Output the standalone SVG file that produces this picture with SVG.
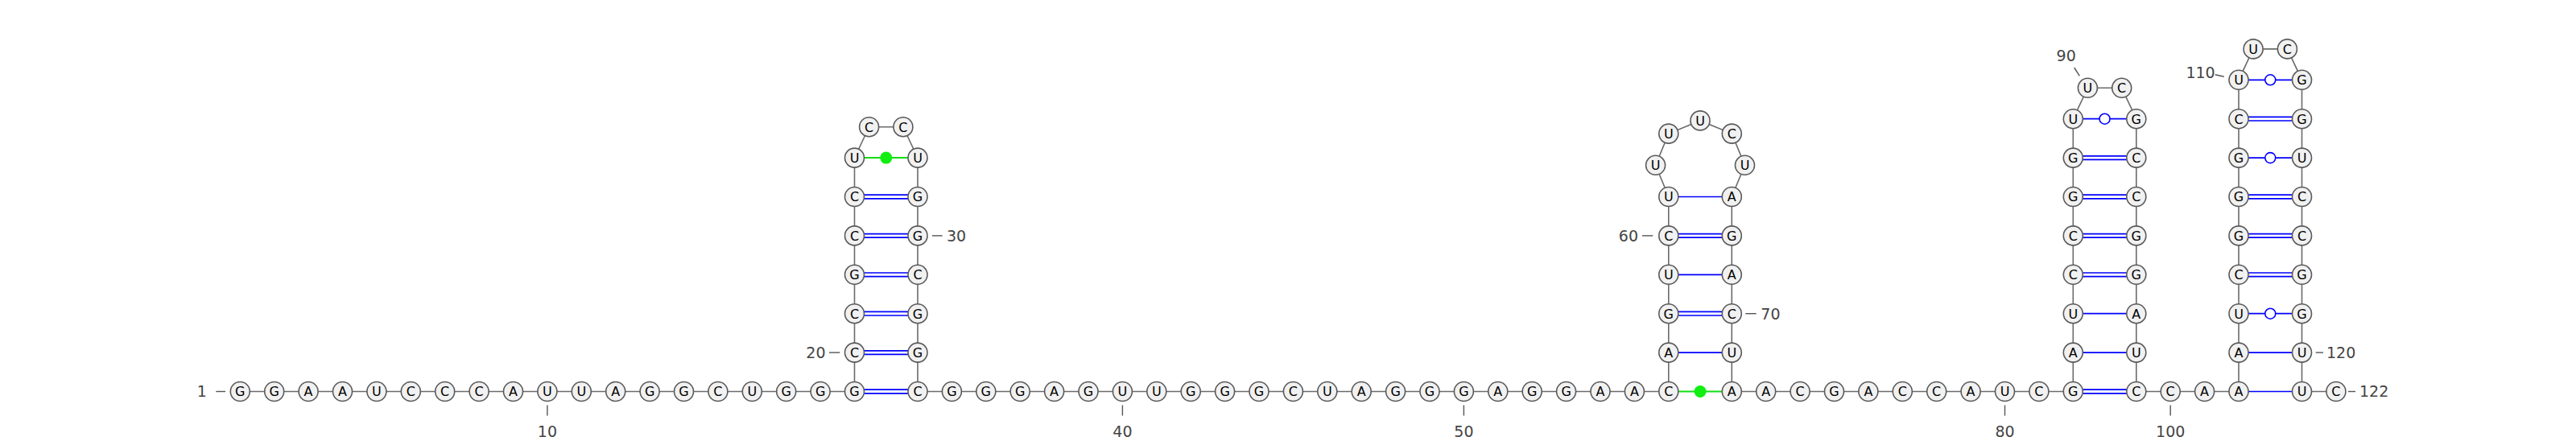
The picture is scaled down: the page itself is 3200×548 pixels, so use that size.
<svg xmlns="http://www.w3.org/2000/svg" width="3200" height="548" viewBox="0 0 3200 548">
<style>
.bb{fill:none;stroke:#6b6b6b;stroke-width:1.6}
.nt circle{fill:#f1f1f1;stroke:#5a5a5a;stroke-width:1.6}
.nt text{font-family:"DejaVu Sans",sans-serif;font-size:16px;text-anchor:middle;fill:#000}
.bp{stroke:#0000ff;stroke-width:1.7}
.wb{fill:#fff;stroke:#0000ff;stroke-width:1.6}
.nc{stroke:#11dd11;stroke-width:2}
.ncd{fill:#11ee11}
.lbl{font-family:"DejaVu Sans",sans-serif;font-size:19px;fill:#444}
.tk{stroke:#555;stroke-width:1.4}
</style>
<rect width="3200" height="548" fill="#fff"/>
<g id="connectors">
<polyline class="bb" points="298.3,486.5 340.7,486.5 383.1,486.5 425.5,486.5 467.9,486.5 510.3,486.5 552.7,486.5 595.1,486.5 637.5,486.5 679.9,486.5 722.3,486.5 764.7,486.5 807.1,486.5 849.5,486.5 891.9,486.5 934.3,486.5 976.7,486.5 1019.1,486.5 1061.5,486.5 1061.5,438.1 1061.5,389.7 1061.5,341.3 1061.5,292.9 1061.5,244.5 1061.5,196.1 1079.6,157.7 1121.9,157.7 1140,196.1 1140,244.5 1140,292.9 1140,341.3 1140,389.7 1140,438.1 1140,486.5 1182.4,486.5 1224.8,486.5 1267.2,486.5 1309.6,486.5 1352,486.5 1394.4,486.5 1436.8,486.5 1479.2,486.5 1521.6,486.5 1564,486.5 1606.4,486.5 1648.8,486.5 1691.2,486.5 1733.6,486.5 1776,486.5 1818.4,486.5 1860.8,486.5 1903.2,486.5 1945.6,486.5 1988,486.5 2030.4,486.5 2072.8,486.5 2072.8,438.1 2072.8,389.7 2072.8,341.3 2072.8,292.9 2072.8,244.5 2056.6,205.3 2072.8,166.1 2112,149.9 2151.3,166.1 2167.5,205.3 2151.3,244.5 2151.3,292.9 2151.3,341.3 2151.3,389.7 2151.3,438.1 2151.3,486.5 2193.7,486.5 2236.1,486.5 2278.5,486.5 2320.9,486.5 2363.3,486.5 2405.7,486.5 2448.1,486.5 2490.5,486.5 2532.9,486.5 2575.3,486.5 2575.3,438.1 2575.3,389.7 2575.3,341.3 2575.3,292.9 2575.3,244.5 2575.3,196.1 2575.3,147.7 2593.4,109.3 2635.7,109.3 2653.8,147.7 2653.8,196.1 2653.8,244.5 2653.8,292.9 2653.8,341.3 2653.8,389.7 2653.8,438.1 2653.8,486.5 2696.2,486.5 2738.6,486.5 2781,486.5 2781,438.1 2781,389.7 2781,341.3 2781,292.9 2781,244.5 2781,196.1 2781,147.7 2781,99.3 2799.1,60.9 2841.4,60.9 2859.5,99.3 2859.5,147.7 2859.5,196.1 2859.5,244.5 2859.5,292.9 2859.5,341.3 2859.5,389.7 2859.5,438.1 2859.5,486.5 2901.9,486.5"/>
<g id="pairs-stem1">
<line class="bp" x1="1073.5" y1="484.2" x2="1128" y2="484.2"/><line class="bp" x1="1073.5" y1="488.8" x2="1128" y2="488.8"/>
<line class="bp" x1="1073.5" y1="435.8" x2="1128" y2="435.8"/><line class="bp" x1="1073.5" y1="440.4" x2="1128" y2="440.4"/>
<line class="bp" x1="1073.5" y1="387.4" x2="1128" y2="387.4"/><line class="bp" x1="1073.5" y1="392" x2="1128" y2="392"/>
<line class="bp" x1="1073.5" y1="339" x2="1128" y2="339"/><line class="bp" x1="1073.5" y1="343.6" x2="1128" y2="343.6"/>
<line class="bp" x1="1073.5" y1="290.6" x2="1128" y2="290.6"/><line class="bp" x1="1073.5" y1="295.2" x2="1128" y2="295.2"/>
<line class="bp" x1="1073.5" y1="242.2" x2="1128" y2="242.2"/><line class="bp" x1="1073.5" y1="246.8" x2="1128" y2="246.8"/>
<line class="nc" x1="1073.5" y1="196.1" x2="1128" y2="196.1"/><circle class="ncd" cx="1100.75" cy="196.1" r="7.5"/>
</g>
<g id="pairs-stem2">
<line class="nc" x1="2084.8" y1="486.5" x2="2139.3" y2="486.5"/><circle class="ncd" cx="2112.05" cy="486.5" r="7.5"/>
<line class="bp" x1="2084.8" y1="438.1" x2="2139.3" y2="438.1"/>
<line class="bp" x1="2084.8" y1="387.4" x2="2139.3" y2="387.4"/><line class="bp" x1="2084.8" y1="392" x2="2139.3" y2="392"/>
<line class="bp" x1="2084.8" y1="341.3" x2="2139.3" y2="341.3"/>
<line class="bp" x1="2084.8" y1="290.6" x2="2139.3" y2="290.6"/><line class="bp" x1="2084.8" y1="295.2" x2="2139.3" y2="295.2"/>
<line class="bp" x1="2084.8" y1="244.5" x2="2139.3" y2="244.5"/>
</g>
<g id="pairs-stem3">
<line class="bp" x1="2587.3" y1="484.2" x2="2641.8" y2="484.2"/><line class="bp" x1="2587.3" y1="488.8" x2="2641.8" y2="488.8"/>
<line class="bp" x1="2587.3" y1="438.1" x2="2641.8" y2="438.1"/>
<line class="bp" x1="2587.3" y1="389.7" x2="2641.8" y2="389.7"/>
<line class="bp" x1="2587.3" y1="339" x2="2641.8" y2="339"/><line class="bp" x1="2587.3" y1="343.6" x2="2641.8" y2="343.6"/>
<line class="bp" x1="2587.3" y1="290.6" x2="2641.8" y2="290.6"/><line class="bp" x1="2587.3" y1="295.2" x2="2641.8" y2="295.2"/>
<line class="bp" x1="2587.3" y1="242.2" x2="2641.8" y2="242.2"/><line class="bp" x1="2587.3" y1="246.8" x2="2641.8" y2="246.8"/>
<line class="bp" x1="2587.3" y1="193.8" x2="2641.8" y2="193.8"/><line class="bp" x1="2587.3" y1="198.4" x2="2641.8" y2="198.4"/>
<line class="bp" x1="2587.3" y1="147.7" x2="2641.8" y2="147.7"/><circle class="wb" cx="2614.55" cy="147.7" r="6.5"/>
</g>
<g id="pairs-stem4">
<line class="bp" x1="2793" y1="486.5" x2="2847.5" y2="486.5"/>
<line class="bp" x1="2793" y1="438.1" x2="2847.5" y2="438.1"/>
<line class="bp" x1="2793" y1="389.7" x2="2847.5" y2="389.7"/><circle class="wb" cx="2820.25" cy="389.7" r="6.5"/>
<line class="bp" x1="2793" y1="339" x2="2847.5" y2="339"/><line class="bp" x1="2793" y1="343.6" x2="2847.5" y2="343.6"/>
<line class="bp" x1="2793" y1="290.6" x2="2847.5" y2="290.6"/><line class="bp" x1="2793" y1="295.2" x2="2847.5" y2="295.2"/>
<line class="bp" x1="2793" y1="242.2" x2="2847.5" y2="242.2"/><line class="bp" x1="2793" y1="246.8" x2="2847.5" y2="246.8"/>
<line class="bp" x1="2793" y1="196.1" x2="2847.5" y2="196.1"/><circle class="wb" cx="2820.25" cy="196.1" r="6.5"/>
<line class="bp" x1="2793" y1="145.4" x2="2847.5" y2="145.4"/><line class="bp" x1="2793" y1="150" x2="2847.5" y2="150"/>
<line class="bp" x1="2793" y1="99.3" x2="2847.5" y2="99.3"/><circle class="wb" cx="2820.25" cy="99.3" r="6.5"/>
</g>
</g>
<g id="nodes">
<g id="n1" class="nt"><circle cx="298.3" cy="486.5" r="12"/><text x="298.3" y="492.3">G</text></g>
<g id="n2" class="nt"><circle cx="340.7" cy="486.5" r="12"/><text x="340.7" y="492.3">G</text></g>
<g id="n3" class="nt"><circle cx="383.1" cy="486.5" r="12"/><text x="383.1" y="492.3">A</text></g>
<g id="n4" class="nt"><circle cx="425.5" cy="486.5" r="12"/><text x="425.5" y="492.3">A</text></g>
<g id="n5" class="nt"><circle cx="467.9" cy="486.5" r="12"/><text x="467.9" y="492.3">U</text></g>
<g id="n6" class="nt"><circle cx="510.3" cy="486.5" r="12"/><text x="510.3" y="492.3">C</text></g>
<g id="n7" class="nt"><circle cx="552.7" cy="486.5" r="12"/><text x="552.7" y="492.3">C</text></g>
<g id="n8" class="nt"><circle cx="595.1" cy="486.5" r="12"/><text x="595.1" y="492.3">C</text></g>
<g id="n9" class="nt"><circle cx="637.5" cy="486.5" r="12"/><text x="637.5" y="492.3">A</text></g>
<g id="n10" class="nt"><circle cx="679.9" cy="486.5" r="12"/><text x="679.9" y="492.3">U</text></g>
<g id="n11" class="nt"><circle cx="722.3" cy="486.5" r="12"/><text x="722.3" y="492.3">U</text></g>
<g id="n12" class="nt"><circle cx="764.7" cy="486.5" r="12"/><text x="764.7" y="492.3">A</text></g>
<g id="n13" class="nt"><circle cx="807.1" cy="486.5" r="12"/><text x="807.1" y="492.3">G</text></g>
<g id="n14" class="nt"><circle cx="849.5" cy="486.5" r="12"/><text x="849.5" y="492.3">G</text></g>
<g id="n15" class="nt"><circle cx="891.9" cy="486.5" r="12"/><text x="891.9" y="492.3">C</text></g>
<g id="n16" class="nt"><circle cx="934.3" cy="486.5" r="12"/><text x="934.3" y="492.3">U</text></g>
<g id="n17" class="nt"><circle cx="976.7" cy="486.5" r="12"/><text x="976.7" y="492.3">G</text></g>
<g id="n18" class="nt"><circle cx="1019.1" cy="486.5" r="12"/><text x="1019.1" y="492.3">G</text></g>
<g id="n19" class="nt"><circle cx="1061.5" cy="486.5" r="12"/><text x="1061.5" y="492.3">G</text></g>
<g id="n20" class="nt"><circle cx="1061.5" cy="438.1" r="12"/><text x="1061.5" y="443.9">C</text></g>
<g id="n21" class="nt"><circle cx="1061.5" cy="389.7" r="12"/><text x="1061.5" y="395.5">C</text></g>
<g id="n22" class="nt"><circle cx="1061.5" cy="341.3" r="12"/><text x="1061.5" y="347.1">G</text></g>
<g id="n23" class="nt"><circle cx="1061.5" cy="292.9" r="12"/><text x="1061.5" y="298.7">C</text></g>
<g id="n24" class="nt"><circle cx="1061.5" cy="244.5" r="12"/><text x="1061.5" y="250.3">C</text></g>
<g id="n25" class="nt"><circle cx="1061.5" cy="196.1" r="12"/><text x="1061.5" y="201.9">U</text></g>
<g id="n26" class="nt"><circle cx="1079.6" cy="157.7" r="12"/><text x="1079.6" y="163.5">C</text></g>
<g id="n27" class="nt"><circle cx="1121.9" cy="157.7" r="12"/><text x="1121.9" y="163.5">C</text></g>
<g id="n28" class="nt"><circle cx="1140" cy="196.1" r="12"/><text x="1140" y="201.9">U</text></g>
<g id="n29" class="nt"><circle cx="1140" cy="244.5" r="12"/><text x="1140" y="250.3">G</text></g>
<g id="n30" class="nt"><circle cx="1140" cy="292.9" r="12"/><text x="1140" y="298.7">G</text></g>
<g id="n31" class="nt"><circle cx="1140" cy="341.3" r="12"/><text x="1140" y="347.1">C</text></g>
<g id="n32" class="nt"><circle cx="1140" cy="389.7" r="12"/><text x="1140" y="395.5">G</text></g>
<g id="n33" class="nt"><circle cx="1140" cy="438.1" r="12"/><text x="1140" y="443.9">G</text></g>
<g id="n34" class="nt"><circle cx="1140" cy="486.5" r="12"/><text x="1140" y="492.3">C</text></g>
<g id="n35" class="nt"><circle cx="1182.4" cy="486.5" r="12"/><text x="1182.4" y="492.3">G</text></g>
<g id="n36" class="nt"><circle cx="1224.8" cy="486.5" r="12"/><text x="1224.8" y="492.3">G</text></g>
<g id="n37" class="nt"><circle cx="1267.2" cy="486.5" r="12"/><text x="1267.2" y="492.3">G</text></g>
<g id="n38" class="nt"><circle cx="1309.6" cy="486.5" r="12"/><text x="1309.6" y="492.3">A</text></g>
<g id="n39" class="nt"><circle cx="1352" cy="486.5" r="12"/><text x="1352" y="492.3">G</text></g>
<g id="n40" class="nt"><circle cx="1394.4" cy="486.5" r="12"/><text x="1394.4" y="492.3">U</text></g>
<g id="n41" class="nt"><circle cx="1436.8" cy="486.5" r="12"/><text x="1436.8" y="492.3">U</text></g>
<g id="n42" class="nt"><circle cx="1479.2" cy="486.5" r="12"/><text x="1479.2" y="492.3">G</text></g>
<g id="n43" class="nt"><circle cx="1521.6" cy="486.5" r="12"/><text x="1521.6" y="492.3">G</text></g>
<g id="n44" class="nt"><circle cx="1564" cy="486.5" r="12"/><text x="1564" y="492.3">G</text></g>
<g id="n45" class="nt"><circle cx="1606.4" cy="486.5" r="12"/><text x="1606.4" y="492.3">C</text></g>
<g id="n46" class="nt"><circle cx="1648.8" cy="486.5" r="12"/><text x="1648.8" y="492.3">U</text></g>
<g id="n47" class="nt"><circle cx="1691.2" cy="486.5" r="12"/><text x="1691.2" y="492.3">A</text></g>
<g id="n48" class="nt"><circle cx="1733.6" cy="486.5" r="12"/><text x="1733.6" y="492.3">G</text></g>
<g id="n49" class="nt"><circle cx="1776" cy="486.5" r="12"/><text x="1776" y="492.3">G</text></g>
<g id="n50" class="nt"><circle cx="1818.4" cy="486.5" r="12"/><text x="1818.4" y="492.3">G</text></g>
<g id="n51" class="nt"><circle cx="1860.8" cy="486.5" r="12"/><text x="1860.8" y="492.3">A</text></g>
<g id="n52" class="nt"><circle cx="1903.2" cy="486.5" r="12"/><text x="1903.2" y="492.3">G</text></g>
<g id="n53" class="nt"><circle cx="1945.6" cy="486.5" r="12"/><text x="1945.6" y="492.3">G</text></g>
<g id="n54" class="nt"><circle cx="1988" cy="486.5" r="12"/><text x="1988" y="492.3">A</text></g>
<g id="n55" class="nt"><circle cx="2030.4" cy="486.5" r="12"/><text x="2030.4" y="492.3">A</text></g>
<g id="n56" class="nt"><circle cx="2072.8" cy="486.5" r="12"/><text x="2072.8" y="492.3">C</text></g>
<g id="n57" class="nt"><circle cx="2072.8" cy="438.1" r="12"/><text x="2072.8" y="443.9">A</text></g>
<g id="n58" class="nt"><circle cx="2072.8" cy="389.7" r="12"/><text x="2072.8" y="395.5">G</text></g>
<g id="n59" class="nt"><circle cx="2072.8" cy="341.3" r="12"/><text x="2072.8" y="347.1">U</text></g>
<g id="n60" class="nt"><circle cx="2072.8" cy="292.9" r="12"/><text x="2072.8" y="298.7">C</text></g>
<g id="n61" class="nt"><circle cx="2072.8" cy="244.5" r="12"/><text x="2072.8" y="250.3">U</text></g>
<g id="n62" class="nt"><circle cx="2056.6" cy="205.3" r="12"/><text x="2056.6" y="211.1">U</text></g>
<g id="n63" class="nt"><circle cx="2072.8" cy="166.1" r="12"/><text x="2072.8" y="171.9">U</text></g>
<g id="n64" class="nt"><circle cx="2112" cy="149.9" r="12"/><text x="2112" y="155.7">U</text></g>
<g id="n65" class="nt"><circle cx="2151.3" cy="166.1" r="12"/><text x="2151.3" y="171.9">C</text></g>
<g id="n66" class="nt"><circle cx="2167.5" cy="205.3" r="12"/><text x="2167.5" y="211.1">U</text></g>
<g id="n67" class="nt"><circle cx="2151.3" cy="244.5" r="12"/><text x="2151.3" y="250.3">A</text></g>
<g id="n68" class="nt"><circle cx="2151.3" cy="292.9" r="12"/><text x="2151.3" y="298.7">G</text></g>
<g id="n69" class="nt"><circle cx="2151.3" cy="341.3" r="12"/><text x="2151.3" y="347.1">A</text></g>
<g id="n70" class="nt"><circle cx="2151.3" cy="389.7" r="12"/><text x="2151.3" y="395.5">C</text></g>
<g id="n71" class="nt"><circle cx="2151.3" cy="438.1" r="12"/><text x="2151.3" y="443.9">U</text></g>
<g id="n72" class="nt"><circle cx="2151.3" cy="486.5" r="12"/><text x="2151.3" y="492.3">A</text></g>
<g id="n73" class="nt"><circle cx="2193.7" cy="486.5" r="12"/><text x="2193.7" y="492.3">A</text></g>
<g id="n74" class="nt"><circle cx="2236.1" cy="486.5" r="12"/><text x="2236.1" y="492.3">C</text></g>
<g id="n75" class="nt"><circle cx="2278.5" cy="486.5" r="12"/><text x="2278.5" y="492.3">G</text></g>
<g id="n76" class="nt"><circle cx="2320.9" cy="486.5" r="12"/><text x="2320.9" y="492.3">A</text></g>
<g id="n77" class="nt"><circle cx="2363.3" cy="486.5" r="12"/><text x="2363.3" y="492.3">C</text></g>
<g id="n78" class="nt"><circle cx="2405.7" cy="486.5" r="12"/><text x="2405.7" y="492.3">C</text></g>
<g id="n79" class="nt"><circle cx="2448.1" cy="486.5" r="12"/><text x="2448.1" y="492.3">A</text></g>
<g id="n80" class="nt"><circle cx="2490.5" cy="486.5" r="12"/><text x="2490.5" y="492.3">U</text></g>
<g id="n81" class="nt"><circle cx="2532.9" cy="486.5" r="12"/><text x="2532.9" y="492.3">C</text></g>
<g id="n82" class="nt"><circle cx="2575.3" cy="486.5" r="12"/><text x="2575.3" y="492.3">G</text></g>
<g id="n83" class="nt"><circle cx="2575.3" cy="438.1" r="12"/><text x="2575.3" y="443.9">A</text></g>
<g id="n84" class="nt"><circle cx="2575.3" cy="389.7" r="12"/><text x="2575.3" y="395.5">U</text></g>
<g id="n85" class="nt"><circle cx="2575.3" cy="341.3" r="12"/><text x="2575.3" y="347.1">C</text></g>
<g id="n86" class="nt"><circle cx="2575.3" cy="292.9" r="12"/><text x="2575.3" y="298.7">C</text></g>
<g id="n87" class="nt"><circle cx="2575.3" cy="244.5" r="12"/><text x="2575.3" y="250.3">G</text></g>
<g id="n88" class="nt"><circle cx="2575.3" cy="196.1" r="12"/><text x="2575.3" y="201.9">G</text></g>
<g id="n89" class="nt"><circle cx="2575.3" cy="147.7" r="12"/><text x="2575.3" y="153.5">U</text></g>
<g id="n90" class="nt"><circle cx="2593.4" cy="109.3" r="12"/><text x="2593.4" y="115.1">U</text></g>
<g id="n91" class="nt"><circle cx="2635.7" cy="109.3" r="12"/><text x="2635.7" y="115.1">C</text></g>
<g id="n92" class="nt"><circle cx="2653.8" cy="147.7" r="12"/><text x="2653.8" y="153.5">G</text></g>
<g id="n93" class="nt"><circle cx="2653.8" cy="196.1" r="12"/><text x="2653.8" y="201.9">C</text></g>
<g id="n94" class="nt"><circle cx="2653.8" cy="244.5" r="12"/><text x="2653.8" y="250.3">C</text></g>
<g id="n95" class="nt"><circle cx="2653.8" cy="292.9" r="12"/><text x="2653.8" y="298.7">G</text></g>
<g id="n96" class="nt"><circle cx="2653.8" cy="341.3" r="12"/><text x="2653.8" y="347.1">G</text></g>
<g id="n97" class="nt"><circle cx="2653.8" cy="389.7" r="12"/><text x="2653.8" y="395.5">A</text></g>
<g id="n98" class="nt"><circle cx="2653.8" cy="438.1" r="12"/><text x="2653.8" y="443.9">U</text></g>
<g id="n99" class="nt"><circle cx="2653.8" cy="486.5" r="12"/><text x="2653.8" y="492.3">C</text></g>
<g id="n100" class="nt"><circle cx="2696.2" cy="486.5" r="12"/><text x="2696.2" y="492.3">C</text></g>
<g id="n101" class="nt"><circle cx="2738.6" cy="486.5" r="12"/><text x="2738.6" y="492.3">A</text></g>
<g id="n102" class="nt"><circle cx="2781" cy="486.5" r="12"/><text x="2781" y="492.3">A</text></g>
<g id="n103" class="nt"><circle cx="2781" cy="438.1" r="12"/><text x="2781" y="443.9">A</text></g>
<g id="n104" class="nt"><circle cx="2781" cy="389.7" r="12"/><text x="2781" y="395.5">U</text></g>
<g id="n105" class="nt"><circle cx="2781" cy="341.3" r="12"/><text x="2781" y="347.1">C</text></g>
<g id="n106" class="nt"><circle cx="2781" cy="292.9" r="12"/><text x="2781" y="298.7">G</text></g>
<g id="n107" class="nt"><circle cx="2781" cy="244.5" r="12"/><text x="2781" y="250.3">G</text></g>
<g id="n108" class="nt"><circle cx="2781" cy="196.1" r="12"/><text x="2781" y="201.9">G</text></g>
<g id="n109" class="nt"><circle cx="2781" cy="147.7" r="12"/><text x="2781" y="153.5">C</text></g>
<g id="n110" class="nt"><circle cx="2781" cy="99.3" r="12"/><text x="2781" y="105.1">U</text></g>
<g id="n111" class="nt"><circle cx="2799.1" cy="60.9" r="12"/><text x="2799.1" y="66.7">U</text></g>
<g id="n112" class="nt"><circle cx="2841.4" cy="60.9" r="12"/><text x="2841.4" y="66.7">C</text></g>
<g id="n113" class="nt"><circle cx="2859.5" cy="99.3" r="12"/><text x="2859.5" y="105.1">G</text></g>
<g id="n114" class="nt"><circle cx="2859.5" cy="147.7" r="12"/><text x="2859.5" y="153.5">G</text></g>
<g id="n115" class="nt"><circle cx="2859.5" cy="196.1" r="12"/><text x="2859.5" y="201.9">U</text></g>
<g id="n116" class="nt"><circle cx="2859.5" cy="244.5" r="12"/><text x="2859.5" y="250.3">C</text></g>
<g id="n117" class="nt"><circle cx="2859.5" cy="292.9" r="12"/><text x="2859.5" y="298.7">C</text></g>
<g id="n118" class="nt"><circle cx="2859.5" cy="341.3" r="12"/><text x="2859.5" y="347.1">G</text></g>
<g id="n119" class="nt"><circle cx="2859.5" cy="389.7" r="12"/><text x="2859.5" y="395.5">G</text></g>
<g id="n120" class="nt"><circle cx="2859.5" cy="438.1" r="12"/><text x="2859.5" y="443.9">U</text></g>
<g id="n121" class="nt"><circle cx="2859.5" cy="486.5" r="12"/><text x="2859.5" y="492.3">U</text></g>
<g id="n122" class="nt"><circle cx="2901.9" cy="486.5" r="12"/><text x="2901.9" y="492.3">C</text></g>
</g>
<g id="labels">
<text class="lbl" x="250.7" y="493.4" text-anchor="middle">1</text><line class="tk" x1="268.3" y1="486.5" x2="280" y2="486.5"/>
<line class="tk" x1="679.9" y1="503.5" x2="679.9" y2="516.5"/><text class="lbl" x="679.9" y="542.7" text-anchor="middle">10</text>
<text class="lbl" x="1025.5" y="445" text-anchor="end">20</text><line class="tk" x1="1030" y1="438.1" x2="1043.3" y2="438.1"/>
<line class="tk" x1="1158" y1="292.9" x2="1170.7" y2="292.9"/><text class="lbl" x="1176" y="299.8">30</text>
<line class="tk" x1="1394.4" y1="503.5" x2="1394.4" y2="516.5"/><text class="lbl" x="1394.4" y="542.7" text-anchor="middle">40</text>
<line class="tk" x1="1818.4" y1="503.5" x2="1818.4" y2="516.5"/><text class="lbl" x="1818.4" y="542.7" text-anchor="middle">50</text>
<text class="lbl" x="2035" y="299.8" text-anchor="end">60</text><line class="tk" x1="2040" y1="292.9" x2="2053.3" y2="292.9"/>
<line class="tk" x1="2168.3" y1="389.7" x2="2181.7" y2="389.7"/><text class="lbl" x="2187.3" y="396.6">70</text>
<line class="tk" x1="2490.5" y1="503.5" x2="2490.5" y2="516.5"/><text class="lbl" x="2490.5" y="542.7" text-anchor="middle">80</text>
<text class="lbl" x="2566.7" y="76.2" text-anchor="middle">90</text><line class="tk" x1="2576.7" y1="84" x2="2583.3" y2="94.3"/>
<line class="tk" x1="2696.2" y1="503.5" x2="2696.2" y2="516.5"/><text class="lbl" x="2696.2" y="542.7" text-anchor="middle">100</text>
<text class="lbl" x="2751.7" y="96.9" text-anchor="end">110</text><line class="tk" x1="2751.7" y1="92.7" x2="2762.7" y2="95.3"/>
<line class="tk" x1="2876.7" y1="438.1" x2="2886" y2="438.1"/><text class="lbl" x="2890" y="445">120</text>
<line class="tk" x1="2917" y1="486.5" x2="2926" y2="486.5"/><text class="lbl" x="2931" y="493.4">122</text>
</g>
</svg>
